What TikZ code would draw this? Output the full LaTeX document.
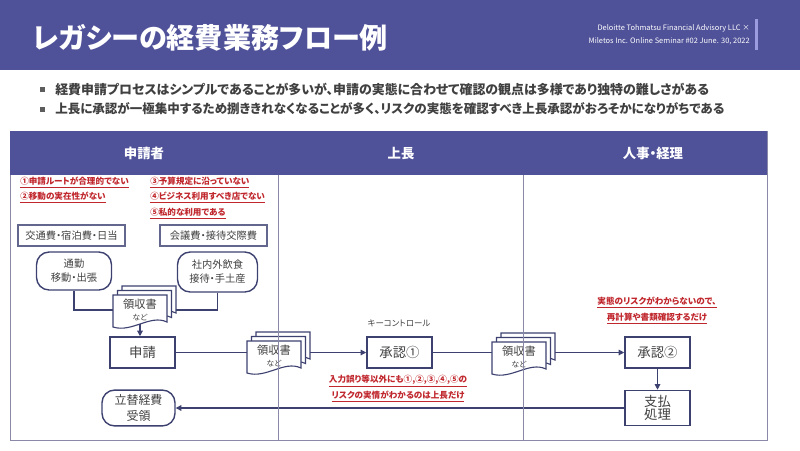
\documentclass[tikz,border=0pt]{standalone}
\usepackage{fontspec}
\setmainfont{Noto Sans CJK JP}[RawFeature={+palt}]
\usetikzlibrary{arrows.meta}

\definecolor{hdrpurple}{HTML}{4F5199}
\definecolor{linenavy}{HTML}{3D4170}
\definecolor{textgray}{HTML}{404040}
\definecolor{riskred}{HTML}{C0272D}
\definecolor{lanegray}{HTML}{8A8AA8}
\definecolor{barlilac}{HTML}{9B9BE0}

\newcommand{\pxu}{0.025cm}
\newcommand{\docshape}{(-27,-16) -- (27,-16) -- (27,11) .. controls (10,3) and (-8,22) .. (-27,16) -- cycle}
\newcommand{\receipt}[2]{%
  \begin{scope}[shift={#2}]
    \draw[docline,shift={(9,-9)}] \docshape;
    \draw[docline,shift={(4.5,-4.5)}] \docshape;
    \draw[docline] \docshape;
    \node[doctext] (#1-t) at (0,-1) {領収書\\[-1pt]{\fontsize{5.5}{6}\selectfont など}};
    \coordinate (#1-b) at (0,12.5);
    \node[docstack] (#1) at (4.5,-4.5) {};
  \end{scope}}

\begin{document}
\begin{tikzpicture}[x=0.025cm,y=-0.025cm,>={Triangle[length=4pt,width=4pt]},
  title/.style={anchor=west,text=white,font=\fontsize{20}{22}\selectfont\bfseries},
  credit/.style={anchor=east,align=right,text=white,inner sep=0pt,font=\fontsize{5.3}{9}\selectfont},
  bulletsq/.style={fill=textgray!85,minimum size=5*\pxu,inner sep=0pt},
  bullet/.style={anchor=west,text=textgray,inner sep=0pt,font=\fontsize{9.2}{11}\selectfont\bfseries},
  lanehead/.style={text=white,font=\fontsize{9.5}{11}\selectfont\bfseries},
  lane/.style={draw=lanegray,line width=0.6pt},
  risk/.style={text=riskred,inner sep=0pt,font=\fontsize{6.1}{7}\selectfont\bfseries},
  catbox/.style={draw=linenavy!80,line width=0.8pt,minimum width=107*\pxu,minimum height=21*\pxu,text=textgray,font=\fontsize{7.3}{9}\selectfont},
  caseround/.style={draw=linenavy,line width=1pt,rounded corners=9pt,align=center,text=textgray,font=\fontsize{7.3}{10}\selectfont},
  stepbox/.style={draw=linenavy,line width=1.1pt,minimum width=65*\pxu,minimum height=31*\pxu,align=center,text=textgray,font=\fontsize{9.5}{11.5}\selectfont},
  docline/.style={draw=linenavy,line width=0.8pt,fill=white},
  doctext/.style={align=center,inner sep=0pt,text=textgray,font=\fontsize{8}{9}\selectfont},
  docstack/.style={minimum width=63*\pxu,minimum height=41*\pxu,inner sep=0pt},
  flow/.style={draw=linenavy,line width=0.8pt}]
\useasboundingbox (0,0) rectangle (800,450);

% header band
\fill[hdrpurple] (0,0) rectangle (800,70);
\node[title] (title) at (28,38) {レガシーの経費業務フロー例};
\node[credit] (credit) at (750,35) {Deloitte Tohmatsu Financial Advisory LLC ×\\Miletos Inc. Online Seminar \#02 June. 30, 2022};
\fill[barlilac] (755,19) rectangle (758,50);

% summary
\node[bulletsq] (sq1) at (42,89) {};
\node[bullet] (pt1) at (55,89) {経費申請プロセスはシンプルであることが多いが、申請の実態に合わせて確認の観点は多様であり独特の難しさがある};
\node[bulletsq] (sq2) at (42,109) {};
\node[bullet,font=\fontsize{8.9}{11}\selectfont\bfseries] (pt2) at (55,109) {上長に承認が一極集中するため捌ききれなくなることが多く、リスクの実態を確認すべき上長承認がおろそかになりがちである};

% lanes
\draw[lane] (10,131) rectangle (767,440);
\fill[hdrpurple] (10,131) rectangle (767,175);
\node[lanehead] (lane1) at (144,153) {申請者};
\node[lanehead] (lane2) at (401,153) {上長};
\node[lanehead] (lane3) at (653,153) {人事・経理};

% applicant
\node[risk,anchor=west] (r1) at (20,183) {\underline{①申請ルートが合理的でない}};
\node[risk,anchor=west] (r2) at (20,198) {\underline{②移動の実在性がない}};
\node[risk,anchor=west] (r3) at (150,183) {\underline{③予算規定に沿っていない}};
\node[risk,anchor=west] (r4) at (150,198) {\underline{④ビジネス利用すべき店でない}};
\node[risk,anchor=west] (r5) at (150,214) {\underline{⑤私的な利用である}};

\node[catbox] (travel) at (71.5,235.5) {交通費・宿泊費・日当};
\node[catbox] (meeting) at (213.5,235.5) {会議費・接待交際費};
\node[caseround,minimum width=75*\pxu,minimum height=38*\pxu] (trip) at (74,271) {通勤\\移動・出張};
\node[caseround,minimum width=80*\pxu,minimum height=40*\pxu] (party) at (217.5,272) {社内外飲食\\接待・手土産};

\receipt{rc1}{(140,311)}
\node[stepbox] (apply) at (142.5,352.5) {申請};
\node[caseround,font=\fontsize{8.5}{11}\selectfont,minimum width=73*\pxu,minimum height=33*\pxu] (refund) at (138.5,408) {立替経費\\受領};

% boss
\node[font=\fontsize{6}{7}\selectfont,text=textgray] (keyctl) at (399,323) {キーコントロール};
\receipt{rc2}{(274,357)}
\node[stepbox] (appr1) at (399.5,352.5) {承認①};
\node[risk] (n1) at (398,381) {\underline{入力誤り等以外にも①,②,③,④,⑤の}};
\node[risk] (n2) at (398,397) {\underline{リスクの実情がわかるのは上長だけ}};

% hr / accounting
\node[risk] (n3) at (657,303) {\underline{実態のリスクがわからないので、}};
\node[risk] (n4) at (657,319) {\underline{再計算や書類確認するだけ}};
\receipt{rc3}{(519,358)}
\node[stepbox] (appr2) at (657.5,352.5) {承認②};
\node[stepbox] (pay) at (657.5,408) {支払\\[-2pt]処理};

\draw[flow] (trip) |- (rc1.west |- rc1-t);
\draw[flow] (party) |- (rc1.east |- rc1-t);
\draw[flow,->] (rc1-b) -- (rc1-b |- apply.north);
\draw[flow] (apply) -- (rc2.west |- apply);
\draw[flow,->] (rc2.east |- appr1) -- (appr1);
\draw[flow] (appr1) -- (rc3.west |- appr1);
\draw[flow,->] (rc3.east |- appr2) -- (appr2);
\draw[flow,->] (appr2) -- (pay);
\draw[flow,->] (pay) -- (refund);

\draw[lane] (278,175) -- (278,440);
\draw[lane] (523,175) -- (523,440);
\end{tikzpicture}
\end{document}
